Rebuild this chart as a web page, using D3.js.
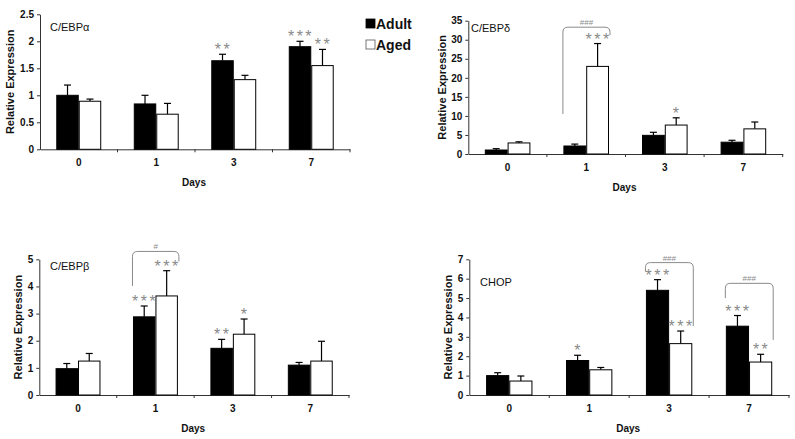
<!DOCTYPE html>
<html><head><meta charset="utf-8">
<script src="https://cdn.jsdelivr.net/npm/d3@7/dist/d3.min.js"></script>
<style>body{margin:0;background:#fff}svg{display:block}text{font-family:"Liberation Sans",Arial,sans-serif}</style>
</head><body><svg id="c" width="795" height="439"></svg>
<script>
const days = ["0","1","3","7"];
const series = ["Adult","Aged"];

const alphaAdult = [1.0, 0.84, 1.64, 1.9];
const alphaAdultErr = [0.19, 0.16, 0.12, 0.1];
const alphaAged = [0.89, 0.65, 1.29, 1.55];
const alphaAgedErr = [0.04, 0.2, 0.08, 0.3];
const alphaStars = [["",""],["",""],["**",""],["***","**"]];
const alphaTicks = [0, 0.5, 1, 1.5, 2, 2.5];
const alphaBrackets = [];

const deltaAdult = [1.05, 2.1, 4.9, 3.1];
const deltaAdultErr = [0.35, 0.5, 0.8, 0.5];
const deltaAged = [2.9, 23, 7.6, 6.6];
const deltaAgedErr = [0.3, 6, 1.9, 1.8];
const deltaStars = [["",""],["","***"],["","*"],["",""]];
const deltaTicks = [0, 5, 10, 15, 20, 25, 30, 35];
const deltaBrackets = [{day:"1", left:10.5, right:31.2, top:33.3, label:"###"}];

const betaAdult = [0.97, 2.88, 1.72, 1.1];
const betaAdultErr = [0.19, 0.4, 0.33, 0.1];
const betaAged = [1.25, 3.65, 2.24, 1.25];
const betaAgedErr = [0.28, 0.93, 0.56, 0.73];
const betaStars = [["",""],["***","***"],["**","*"],["",""]];
const betaTicks = [0, 1, 2, 3, 4, 5];
const betaBrackets = [{day:"1", left:4.02, right:4.92, top:5.29, label:"#"}];

const chopAdult = [1.0, 1.78, 5.4, 3.55];
const chopAdultErr = [0.15, 0.27, 0.55, 0.55];
const chopAged = [0.72, 1.3, 2.65, 1.7];
const chopAgedErr = [0.26, 0.12, 0.65, 0.4];
const chopStars = [["",""],["*",""],["***","***"],["***","**"]];
const chopTicks = [0, 1, 2, 3, 4, 5, 6, 7];
const chopBrackets = [
  {day:"3", left:6.36, right:3.56, top:6.83, label:"###"},
  {day:"7", left:5.0, right:2.84, top:5.76, label:"###"}
];

const panels = [
  {title:"C/EBPα", adult:alphaAdult, adultErr:alphaAdultErr, aged:alphaAged, agedErr:alphaAgedErr, stars:alphaStars, ticks:alphaTicks, brackets:alphaBrackets,
   x0:40, x1:350, yT:14.3, yB:149.3, ylx:10, tx:50, ty:31},
  {title:"C/EBPδ", adult:deltaAdult, adultErr:deltaAdultErr, aged:deltaAged, agedErr:deltaAgedErr, stars:deltaStars, ticks:deltaTicks, brackets:deltaBrackets,
   x0:468.3, x1:782.7, yT:20.7, yB:154, ylx:442, tx:471, ty:32},
  {title:"C/EBPβ", adult:betaAdult, adultErr:betaAdultErr, aged:betaAged, agedErr:betaAgedErr, stars:betaStars, ticks:betaTicks, brackets:betaBrackets,
   x0:39.3, x1:349, yT:259.3, yB:395, ylx:18, tx:50, ty:270},
  {title:"CHOP", adult:chopAdult, adultErr:chopAdultErr, aged:chopAged, agedErr:chopAgedErr, stars:chopStars, ticks:chopTicks, brackets:chopBrackets,
   x0:469.3, x1:789, yT:259.3, yB:395, ylx:448, tx:480, ty:286}
];

const svg = d3.select("#c");
svg.append("rect").attr("width",795).attr("height",439).attr("fill","#fff");
const axisCol = "#333", markCol = "#8a8a8a";

panels.forEach(p => {
  const g = svg.append("g");
  const ymax = d3.max(p.ticks);
  const y = d3.scaleLinear().domain([0, ymax]).range([p.yB, p.yT]);
  const po = 0.21;
  const x = d3.scaleBand().domain(days).range([p.x0, p.x1]).paddingInner(0.42).paddingOuter(po);
  const xs = d3.scaleBand().domain(series).range([0, x.bandwidth()]);

  const ya = g.append("g").attr("transform",`translate(${p.x0},0)`)
    .call(d3.axisLeft(y).tickValues(p.ticks).tickSize(3).tickSizeOuter(0).tickPadding(3).tickFormat(d3.format("")));
  ya.select(".domain").attr("stroke",axisCol);
  ya.selectAll(".tick line").attr("stroke",axisCol);
  ya.selectAll("text").attr("font-size",10).attr("font-weight","bold").attr("fill","#111");

  const xa = g.append("g").attr("transform",`translate(0,${p.yB})`)
    .call(d3.axisBottom(x).tickSize(0).tickSizeOuter(0).tickPadding(10));
  xa.select(".domain").attr("stroke",axisCol);
  xa.selectAll("text").attr("font-size",10).attr("font-weight","bold").attr("fill","#111");
  const bounds = days.map(d => x(d) - po * x.step()).concat([x(days[days.length-1]) + x.bandwidth() + po * x.step()]);
  g.selectAll(".bt").data(bounds.slice(1)).join("line")
    .attr("x1",d=>d).attr("x2",d=>d).attr("y1",p.yB).attr("y2",p.yB+3).attr("stroke",axisCol);

  const rows = [];
  days.forEach((d,i) => {
    rows.push({day:d, s:"Adult", v:p.adult[i], e:p.adultErr[i], star:p.stars[i][0]});
    rows.push({day:d, s:"Aged", v:p.aged[i], e:p.agedErr[i], star:p.stars[i][1]});
  });
  const bx = r => x(r.day) + xs(r.s);
  const bw = xs.bandwidth();
  g.selectAll(".eb").data(rows).join("line")
    .attr("x1",r=>bx(r)+bw/2).attr("x2",r=>bx(r)+bw/2)
    .attr("y1",r=>y(r.v)).attr("y2",r=>y(r.v+r.e)).attr("stroke","#000").attr("stroke-width",1.2);
  g.selectAll(".ec").data(rows).join("line")
    .attr("x1",r=>bx(r)+bw/2-3.5).attr("x2",r=>bx(r)+bw/2+3.5)
    .attr("y1",r=>y(r.v+r.e)).attr("y2",r=>y(r.v+r.e)).attr("stroke","#000").attr("stroke-width",1.2);
  g.selectAll(".bar").data(rows).join("rect")
    .attr("x",r=>bx(r)+0.5).attr("width",bw-1)
    .attr("y",r=>y(r.v)).attr("height",r=>p.yB - y(r.v))
    .attr("fill",r=>r.s==="Adult"?"#000":"#fff").attr("stroke","#000").attr("stroke-width",1);
  g.selectAll(".st").data(rows.filter(r=>r.star)).join("text")
    .attr("x",r=>bx(r)+bw/2+1).attr("y",r=>y(r.v+r.e)+1)
    .attr("text-anchor","middle").attr("font-size",16).attr("letter-spacing",2.5)
    .attr("fill",markCol).text(r=>r.star);

  p.brackets.forEach(b => {
    const xl = x(b.day) - 0.5, xr = x(b.day) + x.bandwidth() + 1, yt = y(b.top), rr = 5;
    const path = `M${xl},${y(b.left)} L${xl},${yt+rr} Q${xl},${yt} ${xl+rr},${yt} L${xr-rr},${yt} Q${xr},${yt} ${xr},${yt+rr} L${xr},${y(b.right)}`;
    g.append("path").attr("d",path).attr("fill","none").attr("stroke",markCol).attr("stroke-width",1);
    g.append("text").attr("x",(xl+xr)/2).attr("y",yt-2).attr("text-anchor","middle")
      .attr("font-size",8).attr("fill",markCol).text(b.label);
  });

  g.append("text").attr("transform",`translate(${p.ylx},${(p.yT+p.yB)/2}) rotate(-90)`)
    .attr("text-anchor","middle").attr("dominant-baseline","central")
    .attr("font-size",11).attr("font-weight","bold").attr("fill","#111").text("Relative Expression");
  g.append("text").attr("x",(p.x0+p.x1)/2 - 1).attr("y",p.yB+37).attr("text-anchor","middle")
    .attr("font-size",10).attr("font-weight","bold").attr("fill","#111").text("Days");
  g.append("text").attr("x",p.tx).attr("y",p.ty).attr("font-size",11).attr("fill","#111").text(p.title);
});

const leg = svg.append("g");
series.forEach((s,i) => {
  leg.append("rect").attr("x",366).attr("y",19+i*21).attr("width",9).attr("height",9)
    .attr("fill",i===0?"#000":"#fff").attr("stroke",i===0?"#000":"#555").attr("stroke-width",0.8);
  leg.append("text").attr("x",376).attr("y",28.5+i*21).attr("font-size",14).attr("font-weight","bold")
    .attr("fill","#111").text(s);
});
</script></body></html>
